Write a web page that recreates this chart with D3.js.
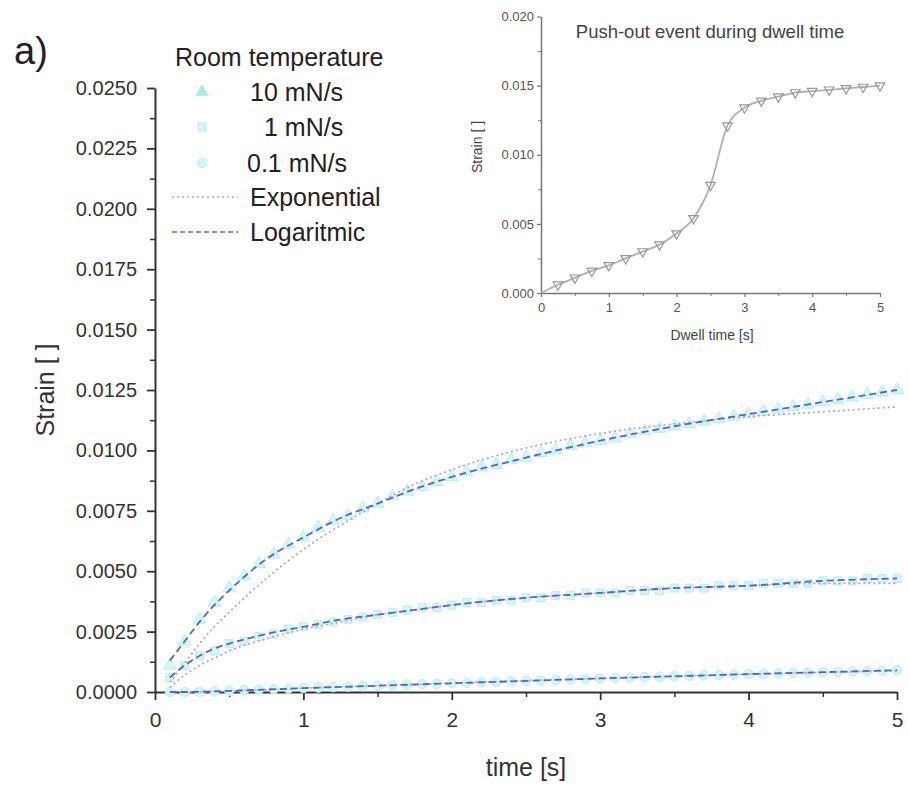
<!DOCTYPE html>
<html>
<head>
<meta charset="utf-8">
<script src="https://cdn.jsdelivr.net/npm/d3@7"></script>
<style>
  body { margin: 0; background: #fff; }
  svg { display: block; font-family: "Liberation Sans", Arial, sans-serif; }
</style>
</head>
<body>
<div id="chart"></div>
<script>
// measured points (time in s, strain)
var times = [0.1, 0.2, 0.3, 0.4, 0.5, 0.6, 0.7, 0.8, 0.9, 1.0,
  1.1, 1.2, 1.3, 1.4, 1.5, 1.6, 1.7, 1.8, 1.9, 2.0,
  2.1, 2.2, 2.3, 2.4, 2.5, 2.6, 2.7, 2.8, 2.9, 3.0,
  3.1, 3.2, 3.3, 3.4, 3.5, 3.6, 3.7, 3.8, 3.9, 4.0,
  4.1, 4.2, 4.3, 4.4, 4.5, 4.6, 4.7, 4.8, 4.9, 5.0];
var strain10 = [0.0011, 0.0021, 0.0030, 0.0037, 0.0043, 0.0048, 0.0053, 0.0057, 0.0061, 0.0064,
  0.0068, 0.0071, 0.0073, 0.0076, 0.0078, 0.0081, 0.0083, 0.0085, 0.0087, 0.0089,
  0.0091, 0.0093, 0.0094, 0.0096, 0.0097, 0.0099, 0.0100, 0.0102, 0.0103, 0.0104,
  0.0105, 0.0107, 0.0108, 0.0109, 0.0110, 0.0111, 0.0112, 0.0113, 0.0114, 0.0115,
  0.0116, 0.0117, 0.0118, 0.0119, 0.0120, 0.0121, 0.0122, 0.0123, 0.0124, 0.0125];
var strain1 = [0.0006, 0.0011, 0.0015, 0.0017, 0.0020, 0.0021, 0.0023, 0.0024, 0.0026, 0.0027,
  0.0028, 0.0029, 0.0030, 0.0031, 0.0032, 0.0033, 0.0034, 0.0035, 0.0035, 0.0036,
  0.0037, 0.0037, 0.0038, 0.0038, 0.0039, 0.0039, 0.0040, 0.0040, 0.0041, 0.0041,
  0.0041, 0.0042, 0.0042, 0.0042, 0.0043, 0.0043, 0.0043, 0.0044, 0.0044, 0.0044,
  0.0045, 0.0045, 0.0045, 0.0045, 0.0046, 0.0046, 0.0046, 0.0047, 0.0047, 0.0047];
var strain01 = [0.0000, 0.0000, 0.0000, 0.00002, 0.00005, 0.00008, 0.0001, 0.00012, 0.00014, 0.00016,
  0.00018, 0.0002, 0.00022, 0.00024, 0.00026, 0.00028, 0.0003, 0.00032, 0.00034, 0.00036,
  0.00038, 0.0004, 0.00042, 0.00044, 0.00046, 0.00048, 0.0005, 0.00052, 0.00054, 0.00056,
  0.00058, 0.0006, 0.00062, 0.00063, 0.00065, 0.00067, 0.00069, 0.0007, 0.00072, 0.00074,
  0.00075, 0.00077, 0.00079, 0.0008, 0.00082, 0.00083, 0.00085, 0.00086, 0.00088, 0.0009];

// fitted curves
var fitTimes = [0.1, 0.2, 0.3, 0.4, 0.5, 0.75, 1.0, 1.25, 1.5, 1.75, 2.0, 2.5, 3.0, 3.5, 4.0, 4.5, 5.0];
var log10 = [0.0013, 0.0021, 0.0029, 0.0036, 0.0042, 0.0055, 0.0064, 0.0072, 0.0078, 0.0084, 0.0089, 0.0097, 0.0104, 0.0110, 0.0115, 0.0120, 0.0125];
var exp10 = [0.0004, 0.0012, 0.0020, 0.0027, 0.0033, 0.0047, 0.0059, 0.0069, 0.0078, 0.0086, 0.0092, 0.0101, 0.0107, 0.0111, 0.0114, 0.0116, 0.0118];
var log1 = [0.0006, 0.0011, 0.0015, 0.0018, 0.0020, 0.0024, 0.0027, 0.0030, 0.0032, 0.0034, 0.0036, 0.0039, 0.0041, 0.0043, 0.0044, 0.0046, 0.0047];
var exp1 = [0.0002, 0.0007, 0.0011, 0.0014, 0.0017, 0.0022, 0.0026, 0.0029, 0.0032, 0.0034, 0.0036, 0.0039, 0.0041, 0.0043, 0.0044, 0.0045, 0.0045];
var log01 = [0.0, 0.0, 0.00001, 0.00003, 0.00005, 0.0001, 0.00016, 0.00021, 0.00026, 0.00031, 0.00036, 0.00046, 0.00056, 0.00065, 0.00074, 0.00082, 0.0009];
var exp01 = [0.0, 0.0, 0.0, 0.00002, 0.00004, 0.0001, 0.00016, 0.00021, 0.00026, 0.00031, 0.00037, 0.00047, 0.00057, 0.00066, 0.00074, 0.00081, 0.00088];

// inset: push-out event
var dwellTimes = [0, 0.25, 0.5, 0.75, 1.0, 1.25, 1.5, 1.75, 2.0, 2.25, 2.5, 2.75, 3.0, 3.25, 3.5, 3.75, 4.0, 4.25, 4.5, 4.75, 5.0];
var dwellStrain = [0.0, 0.0006, 0.0011, 0.0016, 0.0020, 0.0025, 0.0030, 0.0035, 0.0043, 0.0054, 0.0078, 0.0121, 0.0134, 0.0139, 0.0142, 0.0145, 0.0146, 0.0147, 0.0148, 0.0149, 0.0150];

var xTicks = [0, 1, 2, 3, 4, 5];
var xMinor = [0.5, 1.5, 2.5, 3.5, 4.5];
var yTicks = [0, 0.0025, 0.005, 0.0075, 0.01, 0.0125, 0.015, 0.0175, 0.02, 0.0225, 0.025];
var yMinor = [0.00125, 0.00375, 0.00625, 0.00875, 0.01125, 0.01375, 0.01625, 0.01875, 0.02125, 0.02375];
var insetYTicks = [0, 0.005, 0.01, 0.015, 0.02];
var insetYMinor = [0.0025, 0.0075, 0.0125, 0.0175];
var legendLabels = ["10 mN/s", "1 mN/s", "0.1 mN/s", "Exponential", "Logaritmic"];

var width = 909, height = 788;
var axisColor = "#333";
var markerFill = "#d4f6fb", markerStroke = "#b4eef6";
var logColor = "#4f67c8", expColor = "#b59fc6";

var svg = d3.select("#chart").append("svg")
  .attr("width", width)
  .attr("height", height);

var x = d3.scaleLinear().domain([0, 5]).range([155, 897]);
var y = d3.scaleLinear().domain([0, 0.025]).range([692, 88]);

function styleAxis(g, size) {
  g.select(".domain").attr("stroke", axisColor).attr("stroke-width", 2);
  g.selectAll(".tick line").attr("stroke", axisColor).attr("stroke-width", 1.8);
  g.selectAll(".tick text").attr("fill", axisColor).style("font-size", size + "px");
}

// main axes
var gx = svg.append("g").attr("transform", "translate(0,692)")
  .call(d3.axisBottom(x).tickValues(xTicks).tickSize(8).tickSizeOuter(0).tickPadding(12).tickFormat(d3.format("d")));
styleAxis(gx, 21);
var gxm = svg.append("g").attr("transform", "translate(0,692)")
  .call(d3.axisBottom(x).tickValues(xMinor).tickSize(5).tickFormat(""));
gxm.select(".domain").remove();
gxm.selectAll(".tick line").attr("stroke", axisColor).attr("stroke-width", 1.5);

var gy = svg.append("g").attr("transform", "translate(155,0)")
  .call(d3.axisLeft(y).tickValues(yTicks).tickSize(8).tickSizeOuter(0).tickPadding(10).tickFormat(d3.format(".4f")));
styleAxis(gy, 20);
var gym = svg.append("g").attr("transform", "translate(155,0)")
  .call(d3.axisLeft(y).tickValues(yMinor).tickSize(5).tickFormat(""));
gym.select(".domain").remove();
gym.selectAll(".tick line").attr("stroke", axisColor).attr("stroke-width", 1.5);

svg.append("text").attr("x", 526).attr("y", 776).attr("text-anchor", "middle")
  .style("font-size", "25px").attr("fill", axisColor).text("time [s]");
svg.append("text").attr("transform", "translate(54,390) rotate(-90)").attr("text-anchor", "middle")
  .style("font-size", "25px").attr("fill", axisColor).text("Strain [ ]");
svg.append("text").attr("x", 14).attr("y", 64)
  .style("font-size", "38px").attr("fill", "#222").text("a)");

// data markers
var plot = svg.append("g");
var triangle = d3.symbol().type(d3.symbolTriangle).size(70);
var square = d3.symbol().type(d3.symbolSquare).size(64);
var circle = d3.symbol().type(d3.symbolCircle).size(70);
function drawMarkers(values, shape) {
  plot.append("g").selectAll("path")
    .data(times.map(function (t, i) { return [t, values[i]]; }))
    .enter().append("path")
    .attr("d", shape)
    .attr("transform", function (d) { return "translate(" + x(d[0]) + "," + y(d[1]) + ")"; })
    .attr("fill", markerFill)
    .attr("stroke", markerStroke)
    .attr("stroke-width", 1);
}
drawMarkers(strain01, circle);
drawMarkers(strain1, square);
drawMarkers(strain10, triangle);

var fitLine = d3.line()
  .x(function (d) { return x(d[0]); })
  .y(function (d) { return y(d[1]); })
  .curve(d3.curveMonotoneX);
function drawFit(values, color, dash, w) {
  plot.append("path")
    .datum(fitTimes.map(function (t, i) { return [t, values[i]]; }))
    .attr("d", fitLine)
    .attr("fill", "none")
    .attr("stroke", color)
    .attr("stroke-width", w)
    .attr("stroke-dasharray", dash);
}
[exp10, exp1, exp01].forEach(function (v) { drawFit(v, expColor, "2,3", 1.7); });
[log10, log1, log01].forEach(function (v) { drawFit(v, logColor, "7,4", 1.8); });

// legend
var legend = svg.append("g");
legend.append("text").attr("x", 175).attr("y", 66).style("font-size", "25px").attr("fill", "#222").text("Room temperature");
var legendRows = [92, 127, 163, 197, 232];
var legendX = [250, 264, 247, 250, 250];
legendLabels.forEach(function (label, i) {
  legend.append("text").attr("x", legendX[i]).attr("y", legendRows[i] + 9)
    .style("font-size", "25px").attr("fill", "#222").text(label);
});
[triangle, square, circle].forEach(function (shape, i) {
  legend.append("path").attr("d", shape)
    .attr("transform", "translate(202," + legendRows[i] + ")")
    .attr("fill", i === 0 ? "#a6ebe6" : markerFill)
    .attr("stroke", markerStroke);
});
legend.append("line").attr("x1", 172).attr("x2", 238).attr("y1", legendRows[3]).attr("y2", legendRows[3])
  .attr("stroke", "#aaa").attr("stroke-width", 1.6).attr("stroke-dasharray", "2,3");
legend.append("line").attr("x1", 172).attr("x2", 238).attr("y1", legendRows[4]).attr("y2", legendRows[4])
  .attr("stroke", "#6a6ad6").attr("stroke-width", 1.6).attr("stroke-dasharray", "5,3");

// inset chart
var inset = svg.append("g");
var xi = d3.scaleLinear().domain([0, 5]).range([541, 880]);
var yi = d3.scaleLinear().domain([0, 0.02]).range([293, 16.5]);
var insetColor = "#777";

function styleInset(g) {
  g.select(".domain").attr("stroke", insetColor).attr("stroke-width", 1.5);
  g.selectAll(".tick line").attr("stroke", insetColor).attr("stroke-width", 1.2);
  g.selectAll(".tick text").attr("fill", "#555").style("font-size", "13px");
}
var ix = inset.append("g").attr("transform", "translate(0,293)")
  .call(d3.axisBottom(xi).tickValues(xTicks).tickSize(4).tickSizeOuter(0).tickPadding(6).tickFormat(d3.format("d")));
styleInset(ix);
var ixm = inset.append("g").attr("transform", "translate(0,293)")
  .call(d3.axisBottom(xi).tickValues(xMinor).tickSize(3).tickFormat(""));
ixm.select(".domain").remove();
ixm.selectAll(".tick line").attr("stroke", insetColor);
var iy = inset.append("g").attr("transform", "translate(541,0)")
  .call(d3.axisLeft(yi).tickValues(insetYTicks).tickSize(4).tickSizeOuter(0).tickPadding(3).tickFormat(d3.format(".3f")));
styleInset(iy);
var iym = inset.append("g").attr("transform", "translate(541,0)")
  .call(d3.axisLeft(yi).tickValues(insetYMinor).tickSize(3).tickFormat(""));
iym.select(".domain").remove();
iym.selectAll(".tick line").attr("stroke", insetColor);

inset.append("text").attr("x", 710).attr("y", 38).attr("text-anchor", "middle")
  .style("font-size", "18.5px").attr("fill", "#444").text("Push-out event during dwell time");
inset.append("text").attr("x", 712).attr("y", 340).attr("text-anchor", "middle")
  .style("font-size", "14px").attr("fill", "#444").text("Dwell time [s]");
inset.append("text").attr("transform", "translate(482,147) rotate(-90)").attr("text-anchor", "middle")
  .style("font-size", "14px").attr("fill", "#444").text("Strain [ ]");

var dwell = dwellTimes.map(function (t, i) { return [t, dwellStrain[i]]; });
inset.append("path").datum(dwell)
  .attr("d", d3.line().x(function (d) { return xi(d[0]); }).y(function (d) { return yi(d[1]); }).curve(d3.curveMonotoneX))
  .attr("fill", "none").attr("stroke", "#b0b0b0").attr("stroke-width", 1.8);
var triDown = d3.symbol().type(d3.symbolTriangle).size(40);
inset.append("g").selectAll("path").data(dwell.slice(1)).enter().append("path")
  .attr("d", triDown)
  .attr("transform", function (d) { return "translate(" + xi(d[0]) + "," + yi(d[1]) + ") rotate(180)"; })
  .attr("fill", "none").attr("stroke", "#999").attr("stroke-width", 1.2);
</script>
</body>
</html>
